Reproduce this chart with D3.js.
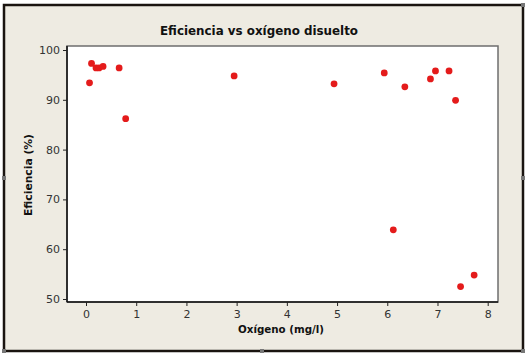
<!DOCTYPE html>
<html><head><meta charset="utf-8">
<script src="https://cdn.jsdelivr.net/npm/d3@7"></script>
<style>body{margin:0;background:#fff}svg{display:block}</style>
</head><body><svg id="c" width="530" height="357"></svg>
<script>
const oxigeno =    [0.07, 0.11, 0.20, 0.26, 0.34, 0.66, 0.79, 2.95, 4.94, 5.94, 6.35, 6.86, 6.96, 7.23, 7.36, 6.12, 7.46, 7.73];
const eficiencia = [93.4, 97.3, 96.4, 96.4, 96.7, 96.4, 86.2, 94.8, 93.2, 95.4, 92.6, 94.2, 95.8, 95.8, 89.9, 63.9, 52.5, 54.8];
const xTicks = [0,1,2,3,4,5,6,7,8];
const yTicks = [50,60,70,80,90,100];
const title = "Eficiencia vs oxígeno disuelto";
const xLabel = "Oxígeno (mg/l)";
const yLabel = "Eficiencia (%)";

const svg = d3.select("#c");
// outer frame
svg.append("rect").attr("x",4).attr("y",5).attr("width",519).attr("height",346)
  .attr("fill","#eeebe2").attr("stroke","#1a1410").attr("stroke-width",2.5);
// handles
[[4,178],[262,351],[523,351],[523,178],[523,5],[4,351]].forEach(([hx,hy])=>{
  svg.append("rect").attr("x",hx-2).attr("y",hy-2).attr("width",4).attr("height",4).attr("fill","#777");
});

const L=67,T=46,R=498,B=302;
const x = d3.scaleLinear().domain([0,8]).range([86,487.7]);
const y = d3.scaleLinear().domain([50,100]).range([299,50]);

svg.append("rect").attr("x",L).attr("y",T).attr("width",R-L).attr("height",B-T)
  .attr("fill","#fff").attr("stroke","#6e6e6e").attr("stroke-width",1.5);

const xa = svg.append("g").attr("transform",`translate(0,${B})`)
  .call(d3.axisBottom(x).tickValues(xTicks).tickSize(4).tickPadding(4).tickFormat(d3.format("d")));
xa.select(".domain").attr("d",`M${L},0H${R}`).attr("stroke","#111").attr("stroke-width",1.5);
const ya = svg.append("g").attr("transform",`translate(${L},0)`)
  .call(d3.axisLeft(y).tickValues(yTicks).tickSize(4).tickPadding(3).tickFormat(d3.format("d")));
ya.select(".domain").attr("d",`M0,${T}V${B}`).attr("stroke","#111").attr("stroke-width",1.5);
svg.selectAll(".tick text").attr("font-family","Tahoma, 'DejaVu Sans', sans-serif").attr("font-size",11).attr("fill","#333");
svg.selectAll(".tick line").attr("stroke","#222");

svg.append("g").selectAll("circle").data(oxigeno).join("circle")
  .attr("cx",(d)=>x(d)).attr("cy",(d,i)=>y(eficiencia[i])).attr("r",3.4).attr("fill","#e41b1b");

svg.append("text").attr("x",259).attr("y",35).attr("text-anchor","middle")
  .attr("font-family","'DejaVu Sans', sans-serif").attr("font-weight","bold").attr("font-size",12.5)
  .attr("fill","#111").attr("textLength",198).attr("lengthAdjust","spacingAndGlyphs").text(title);
svg.append("text").attr("x",281).attr("y",333).attr("text-anchor","middle")
  .attr("font-family","'DejaVu Sans', sans-serif").attr("font-weight","bold").attr("font-size",10.5)
  .attr("fill","#111").attr("textLength",86).attr("lengthAdjust","spacingAndGlyphs").text(xLabel);
svg.append("text").attr("transform","translate(32,175) rotate(-90)").attr("text-anchor","middle")
  .attr("font-family","'DejaVu Sans', sans-serif").attr("font-weight","bold").attr("font-size",10.5)
  .attr("fill","#111").attr("textLength",82).attr("lengthAdjust","spacingAndGlyphs").text(yLabel);
</script></body></html>
